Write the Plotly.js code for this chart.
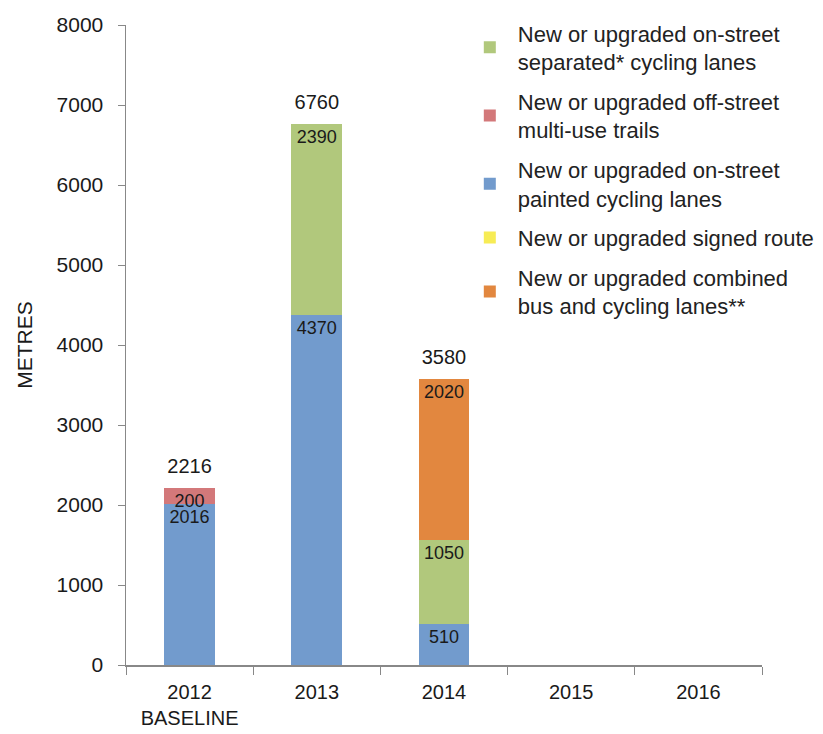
<!DOCTYPE html>
<html>
<head>
<meta charset="utf-8">
<script src="https://cdn.plot.ly/plotly-3.0.1.min.js"></script>
<style>html,body{margin:0;padding:0;background:#fff;}#chart{width:823px;height:734px;}</style>
</head>
<body>
<div id="chart"></div>
<script>
var years = ["2012", "2013", "2014", "2015", "2016"];
var yearLabels = ["2012<br>BASELINE", "2013", "2014", "2015", "2016"];
var painted = [2016, 4370, 510, null, null];
var separated = [null, 2390, 1050, null, null];
var offStreet = [200, null, null, null, null];
var signed = [null, null, null, null, null];
var combined = [null, null, 2020, null, null];
var totals = [2216, 6760, 3580, null, null];

var seriesNames = [
  "New or upgraded on-street<br>painted cycling lanes",
  "New or upgraded on-street<br>separated* cycling lanes",
  "New or upgraded off-street<br>multi-use trails",
  "New or upgraded signed route",
  "New or upgraded combined<br>bus and cycling lanes**"
];
var seriesValues = [painted, separated, offStreet, signed, combined];
var seriesColors = ["#729bcd", "#b1c87c", "#d3787a", "#f7ec55", "#e2873f"];
var legendRanks = [3, 1, 2, 4, 5];

var FONT = "Liberation Sans, Arial, sans-serif";
var TXT = "#1a1a1a";
var traces = [];
for (var i = 0; i < seriesValues.length; i++) {
  traces.push({
    type: "bar",
    name: seriesNames[i],
    legendgroup: "g" + i,
    x: years,
    y: seriesValues[i],
    text: seriesValues[i].map(function (v) { return v == null ? "" : String(v); }),
    textposition: "inside",
    insidetextanchor: "end",
    textangle: 0,
    textfont: {family: FONT, size: 18, color: TXT},
    marker: {color: seriesColors[i], line: {width: 0}},
    width: 0.4,
    legendrank: legendRanks[i],
    hoverinfo: "none",
    cliponaxis: false
  });
}
traces.push({
  type: "scatter",
  mode: "markers+text",
  x: years,
  y: totals,
  text: totals.map(function (v) { return v == null ? "" : String(v); }),
  textposition: "top center",
  marker: {size: 14, color: "rgba(0,0,0,0)"},
  textfont: {family: FONT, size: 20, color: TXT},
  showlegend: false,
  hoverinfo: "none",
  cliponaxis: false
});

var layout = {
  width: 823,
  height: 734,
  margin: {l: 126, r: 61, t: 25, b: 69, autoexpand: false},
  paper_bgcolor: "#fff",
  plot_bgcolor: "#fff",
  barmode: "stack",
  showlegend: true,
  uniformtext: {mode: "show", minsize: 18},
  font: {family: FONT, size: 20, color: TXT},
  legend: {
    x: 0.528, xanchor: "left", y: 1.02, yanchor: "top",
    traceorder: "grouped",
    font: {family: FONT, size: 22, color: "#222"},
    itemwidth: 46,
    tracegroupgap: 8,
    bgcolor: "rgba(0,0,0,0)"
  },
  xaxis: {
    type: "category",
    tickvals: years,
    ticktext: yearLabels,
    tickson: "boundaries",
    ticks: "outside",
    ticklen: 8,
    tickcolor: "#888",
    showline: true,
    linecolor: "#888",
    linewidth: 1.5,
    showgrid: false,
    zeroline: false,
    ticklabelstandoff: 8,
    tickfont: {family: FONT, size: 20, color: TXT},
    range: [-0.5, 4.5]
  },
  yaxis: {
    range: [0, 8000],
    dtick: 1000,
    tick0: 0,
    ticks: "outside",
    ticklen: 7,
    tickcolor: "#888",
    showline: true,
    linecolor: "#888",
    linewidth: 1.5,
    showgrid: false,
    zeroline: false,
    ticklabelstandoff: 10,
    tickfont: {family: FONT, size: 21, color: TXT},
    title: {text: "METRES", font: {family: FONT, size: 21, color: TXT}, standoff: 18}
  }
};

Plotly.newPlot("chart", traces, layout, {displayModeBar: false, staticPlot: true});
</script>
</body>
</html>
